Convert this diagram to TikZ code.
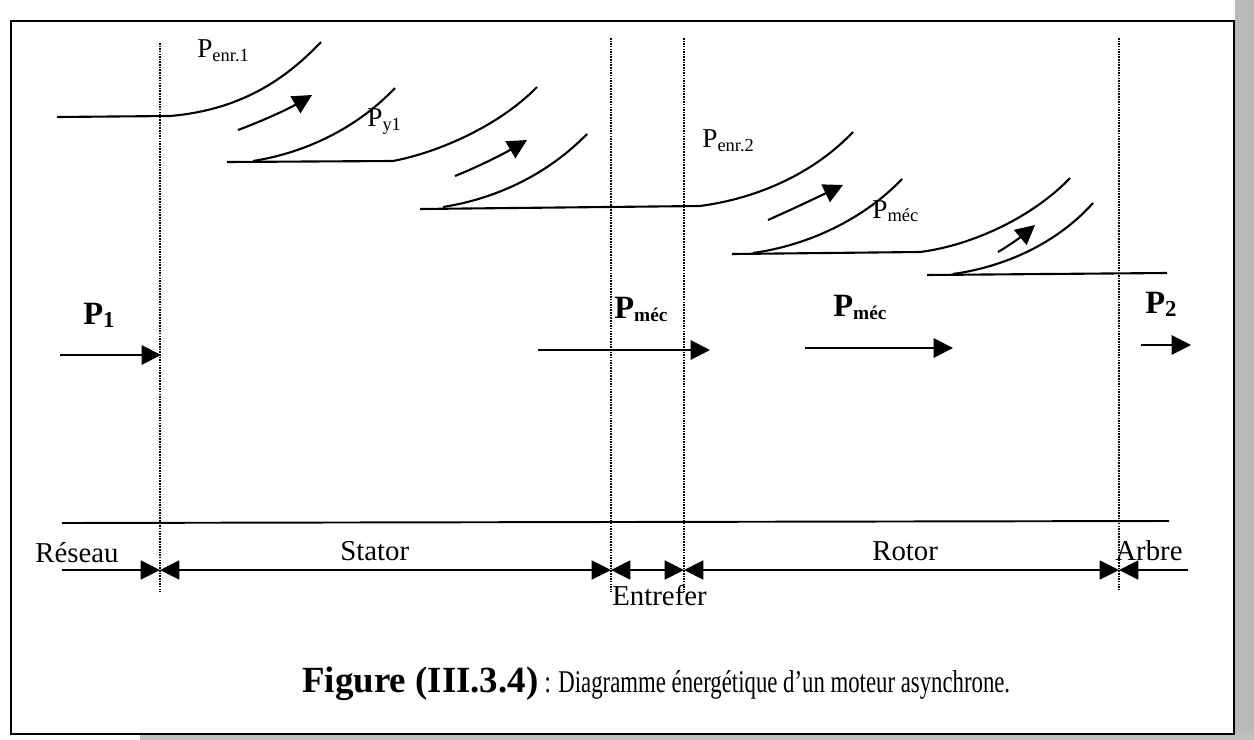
\documentclass[tikz,border=0pt]{standalone}
\usepackage{fontspec}
\usepackage{graphicx}
\setmainfont{Liberation Serif}
\usetikzlibrary{arrows.meta}
\newcommand\PN[1]{\fontsize{15.5}{18}\selectfont P\raisebox{-2pt}{\fontsize{10.5}{12}\selectfont #1}}
\newcommand\PB[2]{\fontsize{18.5}{20}\selectfont\bfseries P\raisebox{-2pt}{\fontsize{#2}{13}\selectfont #1}}
\begin{document}
\begin{tikzpicture}[x=0.02cm,y=-0.02cm,
  curve/.style={line width=1.2pt},
  flow/.style={line width=1.2pt,-{Triangle[length=11pt,width=11pt]}},
  hflow/.style={line width=1.1pt,-{Triangle[length=11pt,width=11pt]}},
  sep/.style={line width=0.8pt,dash pattern=on 0.9pt off 0.6pt},
  dim/.style={line width=1pt},
  dtip/.tip={Triangle[length=11pt,width=10.8pt]},
  lbl/.style={anchor=base west,inner sep=0pt},
  txt/.style={anchor=base west,inner sep=0pt,font=\fontsize{16.4}{18}\selectfont}]
\useasboundingbox (0,0) rectangle (1254,740);
\fill[white] (0,0) rectangle (1254,740);
% frame and scan edges
\fill[gray!55] (1235,0) rectangle (1254,740);
\fill[gray!50] (140,733) rectangle (1254,740);
\draw[line width=1.3pt] (11,21) rectangle (1234,734);
% separators
\coordinate (t1) at (160,43);  \coordinate (u1) at (160,592);
\coordinate (t2) at (611,38);  \coordinate (u2) at (611,592);
\coordinate (t3) at (684,38);  \coordinate (u3) at (684,592);
\coordinate (t4) at (1119,38); \coordinate (u4) at (1119,590);
\draw[sep] (t1) -- (u1);
\draw[sep] (t2) -- (u2);
\draw[sep] (t3) -- (u3);
\draw[sep] (t4) -- (u4);
% power flow band
\coordinate (a0) at (57,117);
\coordinate (a1) at (170,116);
\coordinate (a2) at (321,42);
\draw[curve] (a0) -- (a1) .. controls (240,110) and (285,80) .. (a2);
\coordinate (f1s) at (238,130); \coordinate (f1e) at (312,95);
\draw[flow] (f1s) .. controls (265,120) and (290,108) .. (f1e);
\coordinate (b0) at (227,162);
\coordinate (b1) at (393,161);
\coordinate (b2) at (537,87);
\coordinate (c1) at (253,161);
\coordinate (c2) at (395,88);
\draw[curve] (c1) .. controls (310,152) and (360,125) .. (c2);
\draw[curve] (b0) -- (b1) .. controls (440,152) and (500,125) .. (b2);
\coordinate (f2s) at (455,176); \coordinate (f2e) at (527,140);
\draw[flow] (f2s) .. controls (480,166) and (505,153) .. (f2e);
\coordinate (d0) at (420,209);
\coordinate (d1) at (700,206);
\coordinate (d2) at (853,132);
\coordinate (e1) at (443,207);
\coordinate (e2) at (587,134);
\draw[curve] (e1) .. controls (500,198) and (550,172) .. (e2);
\draw[curve] (d0) -- (d1) .. controls (760,198) and (815,172) .. (d2);
\coordinate (f3s) at (768,220); \coordinate (f3e) at (843,185);
\draw[flow] (f3s) .. controls (795,208) and (820,196) .. (f3e);
\coordinate (g0) at (732,254);
\coordinate (g1) at (920,252);
\coordinate (g2) at (1070,178);
\coordinate (h1) at (753,253);
\coordinate (h2) at (902,179);
\draw[curve] (h1) .. controls (810,245) and (865,218) .. (h2);
\draw[curve] (g0) -- (g1) .. controls (975,245) and (1035,215) .. (g2);
\coordinate (f4s) at (998,252); \coordinate (f4e) at (1035,225);
\draw[flow] (f4s) .. controls (1010,245) and (1022,236) .. (f4e);
\coordinate (k0) at (927,275);
\coordinate (k1) at (1167,273);
\coordinate (m1) at (953,274);
\coordinate (m2) at (1093,203);
\draw[curve] (m1) .. controls (1010,266) and (1060,240) .. (m2);
\draw[curve] (k0) -- (k1);
% loss labels
\node[lbl] (lenr1) at (197,58) {\PN{enr.1}};
\node[lbl] (ly1) at (367,127) {\PN{y1}};
\node[lbl] (lenr2) at (702,148) {\PN{enr.2}};
\node[lbl] (lmec) at (872,218) {\PN{méc}};
% power arrows
\coordinate (p1s) at (60,355);  \coordinate (p1e) at (161,355);
\coordinate (p2s) at (538,350); \coordinate (p2e) at (710,350);
\coordinate (p3s) at (805,348); \coordinate (p3e) at (953,348);
\coordinate (p4s) at (1141,345); \coordinate (p4e) at (1191,345);
\draw[hflow] (p1s) -- (p1e);
\draw[hflow] (p2s) -- (p2e);
\draw[hflow] (p3s) -- (p3e);
\draw[hflow] (p4s) -- (p4e);
\node[lbl] (lp1) at (83,324) {\PB{1}{13}};
\node[lbl] (lpm1) at (614,318) {\PB{méc}{11}};
\node[lbl] (lpm2) at (833,316) {\PB{méc}{11}};
\node[lbl] (lp2) at (1145,313) {\PB{2}{13}};
% bottom scale
\coordinate (z0) at (62,523); \coordinate (z1) at (1169,521);
\draw[line width=1.1pt] (z0) -- (z1);
\coordinate (r0) at (62,570);
\coordinate (r1) at (160,570);
\coordinate (r2) at (611,570);
\coordinate (r3) at (684,570);
\coordinate (r4) at (1119,570);
\coordinate (r5) at (1188,570);
\draw[dim,-dtip] (r0) -- (r1);
\draw[dim,dtip-dtip] (r1) -- (r2);
\draw[dim,dtip-dtip] (r2) -- (r3);
\draw[dim,dtip-dtip] (r3) -- (r4);
\draw[dim,dtip-] (r4) -- (r5);
\node[txt] (reseau) at (35,562) {Réseau};
\node[txt] (stator) at (340,560) {Stator};
\node[txt] (rotor) at (872,560) {Rotor};
\node[txt] (arbre) at (1115,560) {Arbre};
\node[txt] (entrefer) at (612,605) {Entrefer};
% caption
\node[anchor=base west,inner sep=0pt] (cap) at (302,692)
  {\fontsize{21}{24}\selectfont\textbf{Figure (III.3.4)}\,\scalebox{0.72}[1]{\fontsize{18}{20}\selectfont: Diagramme énergétique d’un moteur asynchrone.}};
\end{tikzpicture}
\end{document}
